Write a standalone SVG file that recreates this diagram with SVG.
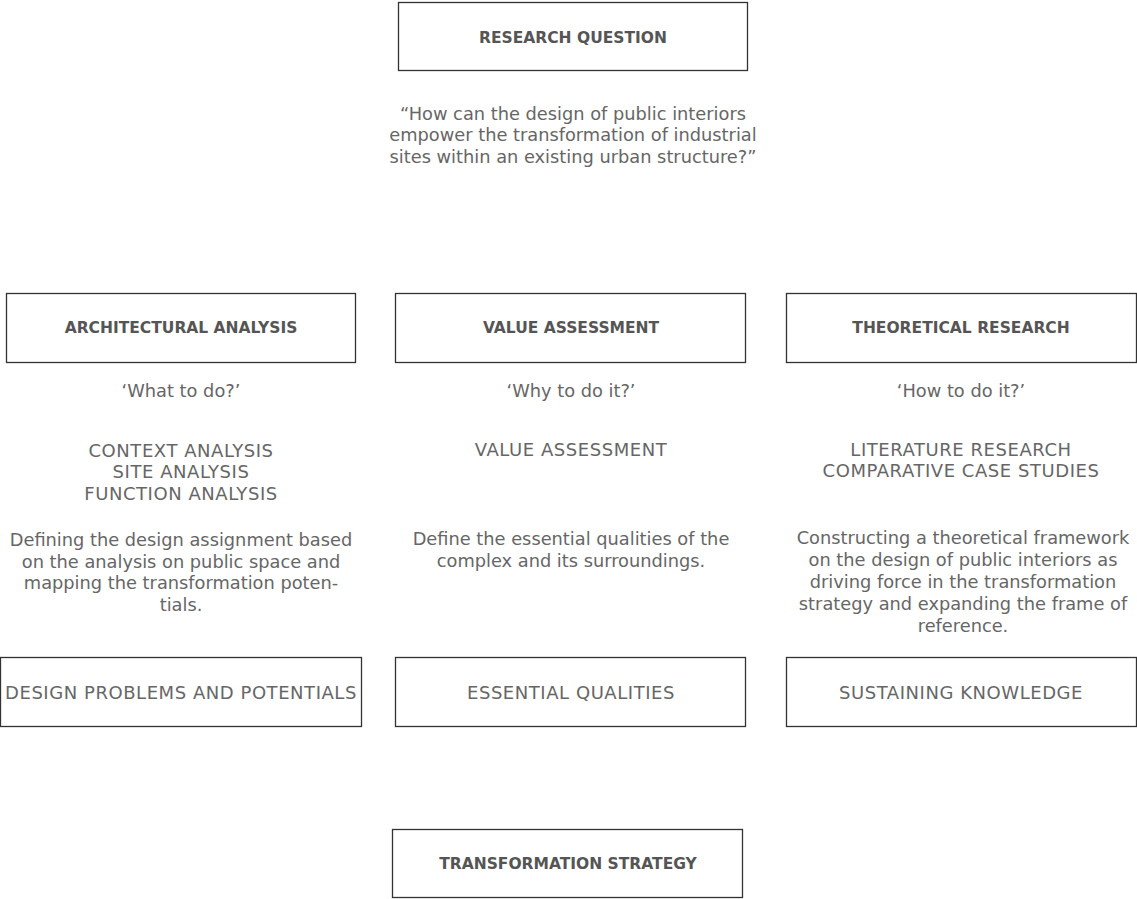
<svg xmlns="http://www.w3.org/2000/svg" width="1137" height="899" viewBox="0 0 1137 899">
<style>
.box{fill:#fff;stroke:#333;stroke-width:1.3}
.t{font-family:"DejaVu Sans","Liberation Sans",sans-serif;text-anchor:middle;dominant-baseline:central}
.h{font-size:15.5px;font-weight:bold;fill:#555}
.r{font-size:17.8px;fill:#666}
.c{font-size:18px;fill:#666;letter-spacing:0.55px}
</style>
<rect width="1137" height="899" fill="#fff"/>
<g id="research-question">
<rect class="box" x="398.5" y="2.5" width="349" height="68"/>
<text class="t h" x="573" y="38">RESEARCH QUESTION</text>
</g>
<g id="question-text">
<text class="t r" x="573" y="113">“How can the design of public interiors</text>
<text class="t r" x="573" y="134.5">empower the transformation of industrial</text>
<text class="t r" x="573" y="156">sites within an existing urban structure?”</text>
</g>
<g id="architectural-analysis">
<rect class="box" x="6.5" y="293.5" width="349" height="69"/>
<text class="t h" x="181" y="328">ARCHITECTURAL ANALYSIS</text>
<text class="t r" x="181" y="390">‘What to do?’</text>
<text class="t c" x="181" y="450">CONTEXT ANALYSIS</text>
<text class="t c" x="181" y="471.5">SITE ANALYSIS</text>
<text class="t c" x="181" y="493">FUNCTION ANALYSIS</text>
<text class="t r" x="181" y="539">Defining the design assignment based</text>
<text class="t r" x="181" y="561">on the analysis on public space and</text>
<text class="t r" x="181" y="582.5">mapping the transformation poten-</text>
<text class="t r" x="181" y="604">tials.</text>
</g>
<g id="value-assessment">
<rect class="box" x="395.5" y="293.5" width="350" height="69"/>
<text class="t h" x="571" y="328">VALUE ASSESSMENT</text>
<text class="t r" x="571" y="390">‘Why to do it?’</text>
<text class="t c" x="571" y="449">VALUE ASSESSMENT</text>
<text class="t r" x="571" y="538">Define the essential qualities of the</text>
<text class="t r" x="571" y="560">complex and its surroundings.</text>
</g>
<g id="theoretical-research">
<rect class="box" x="786.5" y="293.5" width="350" height="69"/>
<text class="t h" x="961" y="328">THEORETICAL RESEARCH</text>
<text class="t r" x="961" y="390">‘How to do it?’</text>
<text class="t c" x="961" y="449">LITERATURE RESEARCH</text>
<text class="t c" x="961" y="470.5">COMPARATIVE CASE STUDIES</text>
<text class="t r" x="963" y="537">Constructing a theoretical framework</text>
<text class="t r" x="963" y="559">on the design of public interiors as</text>
<text class="t r" x="963" y="581">driving force in the transformation</text>
<text class="t r" x="963" y="603">strategy and expanding the frame of</text>
<text class="t r" x="963" y="625">reference.</text>
</g>
<g id="design-problems">
<rect class="box" x="0.5" y="657.5" width="361" height="69"/>
<text class="t c" x="181" y="692">DESIGN PROBLEMS AND POTENTIALS</text>
</g>
<g id="essential-qualities">
<rect class="box" x="395.5" y="657.5" width="350" height="69"/>
<text class="t c" x="571" y="692">ESSENTIAL QUALITIES</text>
</g>
<g id="sustaining-knowledge">
<rect class="box" x="786.5" y="657.5" width="350" height="69"/>
<text class="t c" x="961" y="692">SUSTAINING KNOWLEDGE</text>
</g>
<g id="transformation-strategy">
<rect class="box" x="392.5" y="829.5" width="350" height="68"/>
<text class="t h" x="568" y="864">TRANSFORMATION STRATEGY</text>
</g>
<g id="connectors"></g>
</svg>
